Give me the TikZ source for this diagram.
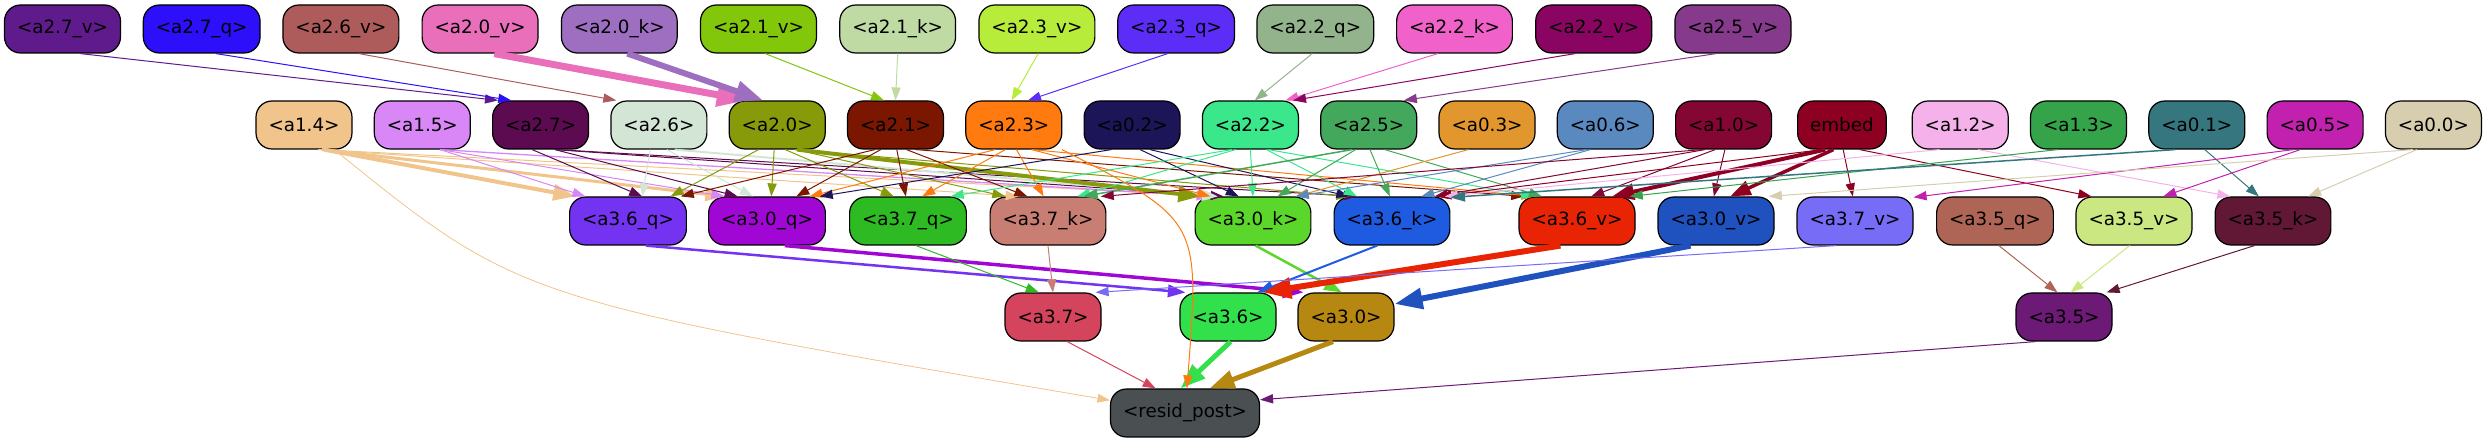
\documentclass[tikz,border=0pt]{standalone}
\usepackage{fontspec}
\setmainfont{DejaVu Sans}
\usetikzlibrary{arrows.meta}
% node fills
\definecolor{ca27v}{HTML}{5F1A8B}
\definecolor{ca27q}{HTML}{2D0FFA}
\definecolor{ca26v}{HTML}{AE5B5B}
\definecolor{ca20v}{HTML}{E96FBB}
\definecolor{ca20k}{HTML}{9E6EC0}
\definecolor{ca21v}{HTML}{82C70A}
\definecolor{ca21k}{HTML}{BFDBA3}
\definecolor{ca23v}{HTML}{B7EC3A}
\definecolor{ca23q}{HTML}{5B2DF6}
\definecolor{ca22q}{HTML}{93B38D}
\definecolor{ca22k}{HTML}{F062C9}
\definecolor{ca22v}{HTML}{8A0562}
\definecolor{ca25v}{HTML}{853A8B}
\definecolor{ca14}{HTML}{F0C48A}
\definecolor{ca15}{HTML}{D986F6}
\definecolor{ca27}{HTML}{5D0B50}
\definecolor{ca26}{HTML}{D3E6D6}
\definecolor{ca20}{HTML}{879A0A}
\definecolor{ca21}{HTML}{7B1700}
\definecolor{ca23}{HTML}{FF7B0F}
\definecolor{ca02}{HTML}{1C1659}
\definecolor{ca22}{HTML}{3AE78A}
\definecolor{ca25}{HTML}{44A85C}
\definecolor{ca03}{HTML}{E1962E}
\definecolor{ca06}{HTML}{5A89C0}
\definecolor{ca10}{HTML}{840633}
\definecolor{cembed}{HTML}{8E0021}
\definecolor{ca12}{HTML}{F5B2EA}
\definecolor{ca13}{HTML}{34A34A}
\definecolor{ca01}{HTML}{36767E}
\definecolor{ca05}{HTML}{C121AE}
\definecolor{ca00}{HTML}{D6CEAE}
\definecolor{ca36q}{HTML}{7333F0}
\definecolor{ca30q}{HTML}{A107D4}
\definecolor{ca37q}{HTML}{2DBA22}
\definecolor{ca37k}{HTML}{C97E74}
\definecolor{ca30k}{HTML}{5BD62B}
\definecolor{ca36k}{HTML}{1F5BE0}
\definecolor{ca36v}{HTML}{E82404}
\definecolor{ca30v}{HTML}{1F51BF}
\definecolor{ca37v}{HTML}{776CF6}
\definecolor{ca35q}{HTML}{AF6556}
\definecolor{ca35v}{HTML}{CAE781}
\definecolor{ca35k}{HTML}{611834}
\definecolor{ca37}{HTML}{D4445C}
\definecolor{ca36}{HTML}{32E04B}
\definecolor{ca30}{HTML}{B68812}
\definecolor{ca35}{HTML}{6D1976}
\definecolor{cresid}{HTML}{4A4F52}

\begin{document}
\begin{tikzpicture}[x=1pt, y=-1pt,
  box/.style={draw=black, line width=1.2pt, rounded corners=16pt, minimum height=48pt,
    inner xsep=12.5pt, inner ysep=0pt, text=black, font=\fontsize{18.3}{22}\selectfont},
  edge/.style={-{Triangle[length=10pt 3, width=7pt 2.2]}}]
  \useasboundingbox (0,0) rectangle (2485,443);
  % Layer 2 inputs (top row)
  \foreach \nm/\lab [count=\i from 0] in {a27v/<a2.7\_v>, a27q/<a2.7\_q>, a26v/<a2.6\_v>,
      a20v/<a2.0\_v>, a20k/<a2.0\_k>, a21v/<a2.1\_v>, a21k/<a2.1\_k>, a23v/<a2.3\_v>,
      a23q/<a2.3\_q>, a22q/<a2.2\_q>, a22k/<a2.2\_k>, a22v/<a2.2\_v>, a25v/<a2.5\_v>}
    \node[box, fill=c\nm] (\nm) at ({62.5+139.2*\i},29) {\lab};
  % Earlier outputs and embedding
  \foreach \nm/\lab [count=\i from 0] in {a14/<a1.4>, a15/<a1.5>, a27/<a2.7>, a26/<a2.6>,
      a20/<a2.0>, a21/<a2.1>, a23/<a2.3>, a02/<a0.2>, a22/<a2.2>, a25/<a2.5>, a03/<a0.3>,
      a06/<a0.6>, a10/<a1.0>, embed/embed, a12/<a1.2>, a13/<a1.3>, a01/<a0.1>,
      a05/<a0.5>, a00/<a0.0>}
    \node[box, fill=c\nm] (\nm) at ({304+118.3*\i},125) {\lab};
  % Layer 3 q/k/v
  \foreach \nm/\lab/\x in {a36q/<a3.6\_q>/628, a30q/<a3.0\_q>/767, a37q/<a3.7\_q>/908,
      a37k/<a3.7\_k>/1048, a30k/<a3.0\_k>/1253, a36k/<a3.6\_k>/1392, a36v/<a3.6\_v>/1577,
      a30v/<a3.0\_v>/1716, a37v/<a3.7\_v>/1855, a35q/<a3.5\_q>/1995, a35v/<a3.5\_v>/2134,
      a35k/<a3.5\_k>/2273}
    \node[box, fill=c\nm] (\nm) at (\x,221) {\lab};
  % Layer 3 heads
  \foreach \nm/\lab/\x in {a37/<a3.7>/1053, a36/<a3.6>/1228, a30/<a3.0>/1346, a35/<a3.5>/2064}
    \node[box, fill=c\nm] (\nm) at (\x,317) {\lab};
  \node[box, fill=cresid] (resid) at (1185,413) {<resid\_post>};

  % Connectors: source/target/width/entry angle
  \foreach \s/\t/\w/\a [evaluate=\a as \b using {int(270+(\a-90)*0.6)}] in {
      a27v/a27/1/150, a27q/a27/1/140, a26v/a26/1/150, a20v/a20/7/140, a20k/a20/6/120,
      a21v/a21/1/115, a21k/a21/1/90, a23v/a23/1/95, a23q/a23/1/60, a22q/a22/1/80,
      a22k/a22/1/35, a22v/a22/1/30, a25v/a25/1/35,
      a14/a36q/4/155, a14/a30q/3/150, a14/a37k/1/140, a14/a30k/1/145,
      a15/a36q/1/150, a15/a30q/1/150, a15/a30k/1.3/150,
      a27/a36q/1/60, a27/a30q/1/140, a27/a30k/1/140, a27/a36k/1/145,
      a26/a36q/1/60, a26/a30q/1/120, a26/a30k/2/145,
      a20/a36q/1/30, a20/a30q/1/80, a20/a37q/1/120, a20/a37k/1/150, a20/a30k/4/155, a20/a36k/1/150,
      a21/a36q/1/25, a21/a30q/1/40, a21/a37q/1/95, a21/a37k/1/130, a21/a36v/1/155,
      a23/a30q/1/30, a23/a37q/1/60, a23/a37k/1/100, a23/a30k/1/150, a23/a36v/1/150,
      a02/a30q/1/25, a02/a30k/1/120, a02/a36k/1/150,
      a22/a37q/1/30, a22/a37k/1/40, a22/a30k/1/90, a22/a36k/1/145, a22/a36v/1/150,
      a25/a37k/1.5/35, a25/a30k/1/45, a25/a36k/1/95, a25/a36v/1/145,
      a03/a30k/1/30, a06/a36k/1/40, a06/a30k/1/30,
      a10/a37k/1/25, a10/a36k/1/30, a10/a36v/1/60, a10/a30v/1/95,
      embed/a36k/1/28, embed/a36v/4/35, embed/a30v/3.5/60, embed/a37v/1/95, embed/a35v/1/150,
      a12/a36k/1/25, a12/a35k/1/150, a13/a36v/1/25, a01/a36k/1.5/22, a01/a35k/1/120,
      a05/a37v/1/22, a05/a35v/1/40, a00/a30v/1/25, a00/a35k/1/35,
      a36q/a36/2.5/150, a30q/a30/3.5/150, a37q/a37/1/120, a37k/a37/1/90, a30k/a30/2.5/100,
      a36k/a36/2/40, a36v/a36/6/35, a30v/a30/6/15, a37v/a37/1/30,
      a35q/a35/1/105, a35v/a35/1/75, a35k/a35/1/30,
      a37/resid/1/140, a36/resid/5/100, a30/resid/5/45, a35/resid/1/10}
    \draw[edge, draw=c\s, line width=\w pt] (\s.\b) -- (\t.\a);
  % long skips into the residual
  \draw[edge, draw=ca14, line width=0.8pt] (a14) .. controls (520,300) .. (resid);
  \draw[edge, draw=ca23, line width=1pt] (a23) .. controls (1200,220) .. (resid);
\end{tikzpicture}
\end{document}
